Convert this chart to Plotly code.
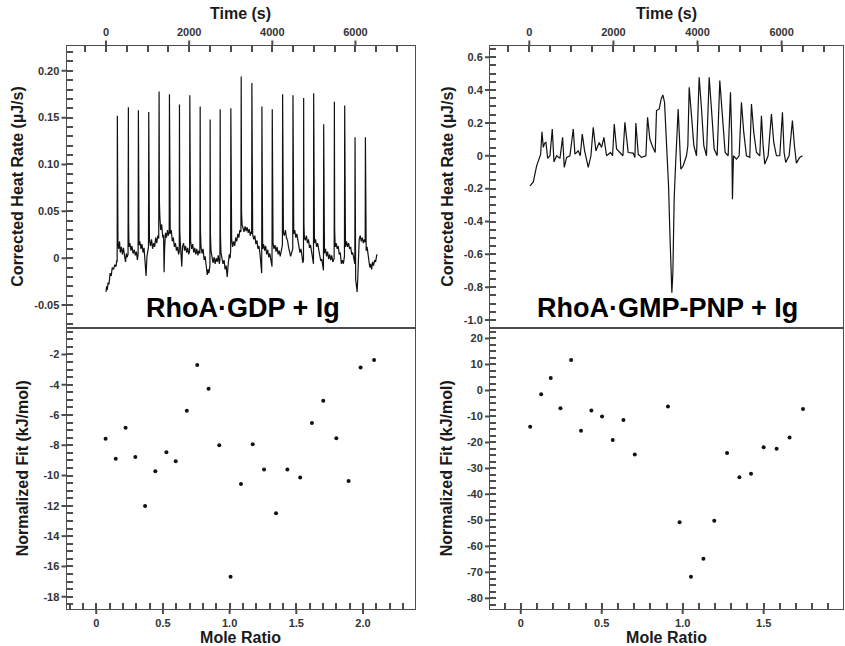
import numpy as np
import plotly.graph_objects as go

# ---------------- data ----------------
# RhoA·GDP + Ig : baseline-corrected heat rate, (time s, rate µJ/s)
gdp_trace = [
    (0, -0.036), (15, -0.030), (30, -0.034), (50, -0.026), (70, -0.028), (100, -0.016),
    (125, -0.019), (150, -0.010), (180, -0.012), (210, -0.007), (240, -0.009), (262, -0.002),
    (268, -0.004), (273, 0.152),
    (280, 0.040), (288, 0.016), (305, 0.010), (325, 0.018), (345, 0.006), (370, 0.012),
    (395, 0.004), (420, 0.011), (445, 0.003), (470, -0.004), (490, 0.005), (510, 0.001),
    (530, 0.004), (538, 0.161),
    (545, 0.035), (553, 0.012), (575, 0.016), (600, 0.008), (625, 0.013), (650, 0.005),
    (680, 0.009), (705, 0.003), (730, 0.007), (755, -0.002), (772, 0.004), (779, 0.158),
    (786, 0.035), (795, 0.014), (815, 0.018), (840, 0.010), (865, 0.015), (890, 0.006),
    (915, 0.011), (940, -0.004), (964, -0.019), (985, 0.002), (1005, 0.008), (1022, 0.012),
    (1028, 0.156),
    (1035, 0.035), (1045, 0.020), (1070, 0.013), (1095, 0.020), (1120, 0.010), (1145, 0.016),
    (1170, 0.012), (1195, 0.022), (1220, 0.016), (1245, 0.024), (1268, 0.021), (1277, 0.178),
    (1285, 0.060), (1295, 0.045), (1315, 0.030), (1340, 0.036), (1365, 0.022), (1385, 0.025),
    (1397, -0.015), (1410, 0.010), (1430, 0.027), (1455, 0.022), (1480, 0.030), (1500, 0.024),
    (1520, 0.028), (1526, 0.175),
    (1533, 0.040), (1545, 0.026), (1570, 0.030), (1595, 0.018), (1620, 0.022), (1645, 0.012),
    (1670, 0.016), (1695, 0.008), (1720, 0.012), (1745, 0.004), (1762, 0.007), (1767, 0.164),
    (1774, 0.030), (1785, 0.018), (1800, 0.010), (1823, -0.009), (1840, 0.012), (1865, 0.016),
    (1890, 0.008), (1915, 0.013), (1940, 0.006), (1965, 0.011), (1990, 0.004), (2010, 0.008),
    (2016, 0.174),
    (2023, 0.035), (2035, 0.018), (2060, 0.010), (2085, 0.015), (2110, 0.006), (2135, 0.011),
    (2160, 0.004), (2185, 0.010), (2210, 0.003), (2235, 0.008), (2258, 0.005), (2265, 0.162),
    (2272, 0.030), (2285, 0.012), (2310, 0.005), (2335, 0.010), (2360, -0.002), (2385, 0.002),
    (2410, -0.010), (2435, -0.018), (2455, -0.012), (2475, -0.016), (2500, -0.008),
    (2505, 0.148),
    (2512, 0.025), (2525, 0.008), (2550, 0.002), (2575, -0.005), (2600, 0.001), (2625, -0.006),
    (2650, 0.000), (2675, -0.004), (2700, 0.003), (2725, -0.006), (2740, -0.002),
    (2746, 0.159),
    (2753, 0.025), (2765, 0.006), (2790, 0.000), (2815, -0.006), (2840, -0.002),
    (2865, -0.012), (2890, -0.008), (2915, -0.020), (2940, -0.006), (2965, 0.004),
    (2985, 0.000), (2998, 0.008), (3003, 0.160),
    (3010, 0.040), (3022, 0.020), (3045, 0.012), (3070, 0.018), (3095, 0.013), (3120, 0.022),
    (3145, 0.018), (3170, 0.026), (3195, 0.022), (3220, 0.030), (3245, 0.028), (3252, 0.194),
    (3260, 0.050), (3272, 0.036), (3295, 0.032), (3320, 0.028), (3345, 0.034), (3370, 0.029),
    (3395, 0.033), (3420, 0.027), (3445, 0.031), (3470, 0.024), (3490, 0.028), (3503, 0.026),
    (3509, 0.187),
    (3516, 0.040), (3528, 0.025), (3555, 0.020), (3580, 0.024), (3605, 0.015), (3630, 0.019),
    (3655, 0.010), (3680, 0.013), (3705, 0.004), (3725, -0.004), (3745, -0.016),
    (3750, 0.162),
    (3757, 0.025), (3768, 0.010), (3790, 0.015), (3815, 0.008), (3840, 0.013), (3865, 0.004),
    (3890, 0.009), (3915, 0.001), (3940, 0.005), (3965, -0.004), (3993, -0.009),
    (3999, 0.159),
    (4006, 0.030), (4018, 0.016), (4040, 0.010), (4065, 0.014), (4090, 0.007), (4115, 0.012),
    (4140, 0.004), (4165, 0.008), (4190, 0.002), (4215, 0.010), (4243, 0.014), (4248, 0.175),
    (4255, 0.040), (4267, 0.027), (4290, 0.024), (4315, 0.030), (4340, 0.022), (4365, 0.019),
    (4390, 0.012), (4415, 0.008), (4440, 0.002), (4465, 0.006), (4492, 0.010), (4497, 0.174),
    (4504, 0.040), (4516, 0.026), (4540, 0.030), (4565, 0.022), (4590, 0.026), (4615, 0.018),
    (4640, 0.014), (4665, 0.006), (4690, 0.010), (4715, 0.002), (4735, -0.005),
    (4750, -0.002), (4754, 0.171),
    (4761, 0.035), (4772, 0.022), (4795, 0.019), (4820, 0.024), (4845, 0.016), (4870, 0.020),
    (4895, 0.011), (4920, 0.014), (4945, 0.005), (4970, 0.001), (4990, -0.006),
    (4995, 0.176),
    (5002, 0.030), (5014, 0.016), (5040, 0.020), (5065, 0.012), (5090, 0.016), (5115, 0.008),
    (5140, 0.004), (5165, -0.003), (5190, -0.001), (5210, -0.008), (5230, -0.013),
    (5236, 0.143),
    (5243, 0.020), (5255, 0.005), (5280, 0.010), (5305, 0.002), (5330, 0.007), (5355, -0.001),
    (5380, 0.004), (5405, -0.002), (5430, 0.003), (5455, -0.004), (5488, 0.000),
    (5493, 0.167),
    (5500, 0.030), (5512, 0.012), (5535, 0.016), (5560, 0.010), (5585, 0.013), (5610, 0.004),
    (5635, 0.006), (5660, -0.006), (5685, -0.002), (5710, -0.006), (5735, 0.002),
    (5741, 0.163),
    (5748, 0.028), (5760, 0.012), (5785, 0.018), (5810, 0.012), (5835, 0.016), (5860, 0.010),
    (5885, 0.012), (5910, 0.004), (5935, 0.006), (5960, -0.002), (5985, -0.006),
    (5990, 0.129),
    (5996, 0.010), (6005, -0.023), (6025, -0.030), (6040, -0.036), (6055, -0.022),
    (6070, 0.005), (6090, 0.020), (6115, 0.024), (6140, 0.018), (6165, 0.022), (6190, 0.016),
    (6215, 0.020), (6234, 0.017), (6239, 0.129),
    (6246, 0.020), (6258, 0.008), (6280, 0.012), (6300, 0.004), (6320, -0.002),
    (6345, -0.010), (6365, -0.006), (6390, -0.012), (6410, -0.004), (6435, -0.008),
    (6460, -0.002), (6485, -0.004), (6510, 0.003), (6525, 0.004),
]
gdp_time = [p[0] for p in gdp_trace]
gdp_rate = [p[1] for p in gdp_trace]

# RhoA·GDP + Ig : integrated, normalized injection heats
gdp_ratio = [0.070, 0.146, 0.220, 0.293, 0.366, 0.443, 0.526, 0.596, 0.679, 0.757,
             0.842, 0.922, 1.007, 1.085, 1.173, 1.258, 1.348, 1.433, 1.529, 1.617,
             1.702, 1.800, 1.892, 1.982, 2.083]
gdp_fit = [-7.56, -8.88, -6.84, -8.77, -12.0, -9.71, -8.46, -9.05, -5.71, -2.70,
           -4.26, -8.00, -16.68, -10.55, -7.93, -9.60, -12.48, -9.60, -10.13, -6.53,
           -5.05, -7.54, -10.35, -2.86, -2.37]

# RhoA·GMP-PNP + Ig : baseline-corrected heat rate vs time
gpp_time = [16, 95, 174, 230, 269, 301, 333, 364, 396, 436, 491, 546, 586, 649, 729, 792,
            832, 887, 966, 1045, 1085, 1164, 1212, 1259, 1315, 1402, 1465, 1520, 1584,
            1663, 1719, 1774, 1837, 1932, 1980, 2020, 2075, 2154, 2226, 2273, 2352, 2471,
            2511, 2534, 2590, 2669, 2772, 2812, 2867, 2922, 2994, 3025, 3089, 3136, 3176,
            3216, 3255, 3287, 3311, 3343, 3374, 3390, 3414, 3445, 3477, 3508, 3540, 3572,
            3603, 3659, 3738, 3770, 3802, 3857, 3913, 3976, 4039, 4095, 4150, 4213, 4277,
            4332, 4396, 4467, 4530, 4586, 4657, 4729, 4784, 4815, 4831, 4855, 4926, 4990,
            5045, 5100, 5164, 5243, 5283, 5338, 5402, 5481, 5520, 5560, 5600, 5679, 5758,
            5813, 5877, 5956, 6020, 6059, 6098, 6178, 6257, 6305, 6352, 6431, 6494]
gpp_rate = [-0.183, -0.159, -0.061, -0.016, 0.008, 0.146, 0.051, 0.077, 0.081, -0.016,
            0.000, 0.163, -0.037, 0.000, -0.016, 0.112, -0.071, -0.010, 0.000, 0.163,
            0.010, 0.030, 0.000, 0.132, 0.030, -0.071, 0.000, 0.173, 0.030, 0.081, 0.051,
            0.112, 0.000, 0.020, 0.000, 0.193, 0.041, 0.020, 0.000, 0.203, 0.020, 0.016,
            -0.010, 0.199, 0.010, -0.010, 0.000, 0.234, 0.102, 0.061, 0.020, 0.275, 0.285,
            0.346, 0.370, 0.325, 0.122, -0.010, -0.183, -0.468, -0.773, -0.834, -0.712,
            -0.264, -0.061, 0.102, 0.285, 0.102, -0.081, -0.061, 0.000, 0.061, 0.417,
            0.244, 0.061, 0.000, 0.478, 0.285, 0.061, 0.000, 0.478, 0.285, 0.041, 0.000,
            0.458, 0.264, 0.020, 0.000, 0.386, 0.102, -0.264, 0.000, -0.020, 0.000, 0.325,
            0.142, 0.000, -0.010, 0.315, 0.142, 0.020, 0.000, 0.244, 0.061, -0.051, 0.000,
            0.254, 0.081, 0.000, 0.000, 0.264, 0.020, -0.041, 0.000, 0.214, 0.061, -0.045,
            -0.010, 0.000]

# RhoA·GMP-PNP + Ig : integrated, normalized injection heats
gpp_ratio = [0.058, 0.126, 0.185, 0.245, 0.311, 0.372, 0.436, 0.502, 0.568, 0.634,
             0.704, 0.909, 0.981, 1.051, 1.128, 1.195, 1.274, 1.350, 1.422, 1.500,
             1.580, 1.660, 1.743]
gpp_fit = [-13.97, -1.46, 4.80, -6.82, 11.70, -15.5, -7.71, -10.0, -19.1, -11.4,
           -24.7, -6.18, -50.75, -71.7, -64.8, -50.1, -24.1, -33.4, -32.1, -21.9,
           -22.4, -18.1, -7.2]

# tick labels
time_ticks = [0, 2000, 4000, 6000]
time_labels = ["0", "2000", "4000", "6000"]
gdp_rate_ticks = [-0.05, 0, 0.05, 0.10, 0.15, 0.20]
gdp_rate_labels = ["-0.05", "0", "0.05", "0.10", "0.15", "0.20"]
gdp_fit_ticks = [-18, -16, -14, -12, -10, -8, -6, -4, -2]
gdp_fit_labels = ["-18", "-16", "-14", "-12", "-10", "-8", "-6", "-4", "-2"]
gdp_ratio_ticks = [0, 0.5, 1.0, 1.5, 2.0]
gdp_ratio_labels = ["0", "0.5", "1.0", "1.5", "2.0"]
gpp_rate_ticks = [-1.0, -0.8, -0.6, -0.4, -0.2, 0, 0.2, 0.4, 0.6]
gpp_rate_labels = ["-1.0", "-0.8", "-0.6", "-0.4", "-0.2", "0", "0.2", "0.4", "0.6"]
gpp_fit_ticks = [-80, -70, -60, -50, -40, -30, -20, -10, 0, 10, 20]
gpp_fit_labels = ["-80", "-70", "-60", "-50", "-40", "-30", "-20", "-10", "0", "10", "20"]
gpp_ratio_ticks = [0, 0.5, 1.0, 1.5]
gpp_ratio_labels = ["0", "0.5", "1.0", "1.5"]

panel_titles = ["RhoA·GDP + Ig", "RhoA·GMP-PNP + Ig"]

# ---------------- figure ----------------
W, H = 845, 646
FONT = "Liberation Sans"
FRAME = "#4d4d4d"
TICKFONT = dict(family=FONT, size=11, color="#333333", weight="bold")
TITLEFONT = dict(family=FONT, size=16, color="#1a1a1a", weight="bold")
IN_LEN = 6     # inward tick length (px)
OUT_LEN = 5    # outward stub of the labelled ticks (px)
TICK_W = 2


def px_x(p):
    return p / W


def px_y(p):
    return 1 - p / H


left_dom = [px_x(66.5), px_x(414.5)]
right_dom = [px_x(490), px_x(843)]
top_dom = [px_y(327.5), px_y(45.5)]
bot_dom = [px_y(609), px_y(327.5)]

line_style = dict(color="#111111", width=1.2)
dot_style = dict(color="#111111", size=4)


def tick_grid(rng, step, major, labels):
    """All tick positions every `step` across the range; labels only on majors."""
    lo = np.ceil(rng[0] / step - 1e-9) * step
    vals = [round(float(v), 6) for v in np.arange(lo, rng[1] + 1e-9, step)]
    lookup = {round(float(m), 6): t for m, t in zip(major, labels)}
    texts = [lookup.get(v, "") for v in vals]
    return vals, texts


def make_axis(domain, rng, major, labels, step, anchor, side=None, title=None, standoff=None):
    vals, texts = tick_grid(rng, step, major, labels)
    a = dict(
        domain=domain, range=rng, anchor=anchor, automargin=False,
        showline=True, linecolor=FRAME, linewidth=1, mirror=True,
        showgrid=False, zeroline=False,
        tickmode="array", tickvals=vals, ticktext=texts,
        ticks="inside", ticklen=IN_LEN, tickwidth=TICK_W, tickcolor=FRAME,
        ticklabelstandoff=4,
        tickfont=TICKFONT,
    )
    if side:
        a["side"] = side
    if title:
        a["title"] = dict(text=title, font=TITLEFONT, standoff=standoff)
    return a


panels = [
    (gdp_time, gdp_rate, "lines", left_dom, top_dom, [-950, 7420], [-0.074, 0.227],
     time_ticks, time_labels, gdp_rate_ticks, gdp_rate_labels, 500, 0.01, "top",
     ("Time (s)", "Corrected Heat Rate (µJ/s)")),
    (gdp_ratio, gdp_fit, "markers", left_dom, bot_dom, [-0.223, 2.386], [-18.81, -0.22],
     gdp_ratio_ticks, gdp_ratio_labels, gdp_fit_ticks, gdp_fit_labels, 0.1, 0.5, "bottom",
     ("Mole Ratio", "Normalized Fit (kJ/mol)")),
    (gpp_time, gpp_rate, "lines", right_dom, top_dom, [-935, 7460], [-1.045, 0.671],
     time_ticks, time_labels, gpp_rate_ticks, gpp_rate_labels, 500, 0.05, "top",
     ("Time (s)", "Corrected Heat Rate (µJ/s)")),
    (gpp_ratio, gpp_fit, "markers", right_dom, bot_dom, [-0.19, 1.99], [-84.1, 24.2],
     gpp_ratio_ticks, gpp_ratio_labels, gpp_fit_ticks, gpp_fit_labels, 0.1, 2.5, "bottom",
     ("Mole Ratio", "Normalized Fit (kJ/mol)")),
]

fig = go.Figure()
layout = dict(
    width=W, height=H,
    margin=dict(l=0, r=0, t=0, b=0),
    paper_bgcolor="white", plot_bgcolor="white",
    template="none",
    showlegend=False,
)
shapes = []

for i, (xs, ys, mode, xd, yd, xr, yr, xt, xl, yt, yl, xm, ym, xside, titles) in enumerate(panels):
    n = i + 1
    xn = "x" if n == 1 else f"x{n}"
    yn = "y" if n == 1 else f"y{n}"
    kw = dict(x=xs, y=ys, mode=mode, xaxis=xn, yaxis=yn, showlegend=False)
    if mode == "lines":
        kw["line"] = line_style
    else:
        kw["marker"] = dot_style
    fig.add_trace(go.Scatter(**kw))

    x_standoff = 2 if xside == "top" else 1
    y_standoff = 6 if xside == "top" else 10
    layout["xaxis" if n == 1 else f"xaxis{n}"] = make_axis(
        xd, xr, xt, xl, xm, yn, side=xside, title=titles[0], standoff=x_standoff)
    layout["yaxis" if n == 1 else f"yaxis{n}"] = make_axis(
        yd, yr, yt, yl, ym, xn, title=titles[1], standoff=y_standoff)

    # outward stubs on the labelled ticks, so those marks cross the frame
    if xside == "top":
        y0, y1 = yd[1], yd[1] + OUT_LEN / H
    else:
        y0, y1 = yd[0] - OUT_LEN / H, yd[0]
    for v in xt:
        shapes.append(dict(type="line", xref=xn, yref="paper", x0=v, x1=v, y0=y0, y1=y1,
                           line=dict(color=FRAME, width=TICK_W), layer="above"))
    for v in yt:
        shapes.append(dict(type="line", xref="paper", yref=yn, x0=xd[0] - OUT_LEN / W,
                           x1=xd[0], y0=v, y1=v, line=dict(color=FRAME, width=TICK_W),
                           layer="above"))

layout["shapes"] = shapes
fig.update_layout(**layout)

label_font = dict(family=FONT, size=27, color="black", weight="bold")
for text, cx in zip(panel_titles, [243, 667]):
    fig.add_annotation(text=text, xref="paper", yref="paper",
                       x=px_x(cx), y=px_y(308), xanchor="center", yanchor="middle",
                       showarrow=False, font=label_font)

fig.write_html("out.html")
